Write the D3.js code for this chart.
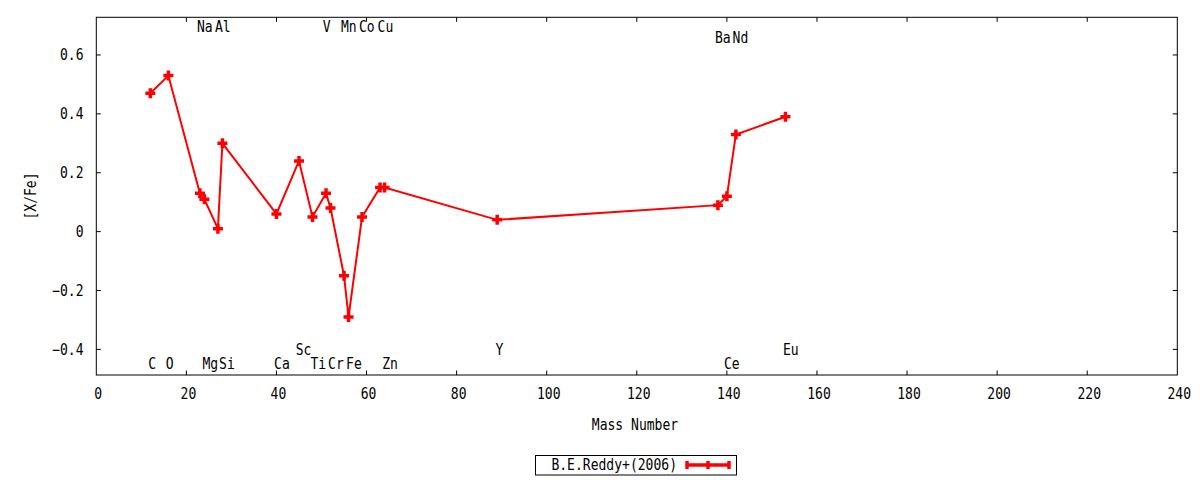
<!DOCTYPE html>
<html>
<head>
<meta charset="utf-8">
<script src="https://cdn.jsdelivr.net/npm/d3@7"></script>
<style>
  body { margin: 0; background: #fff; }
  text { font-family: "DejaVu Sans Mono", monospace; font-size: 15px; fill: #000; }
</style>
</head>
<body>
<script>
// data
const elements = ["C","O","Na","Mg","Al","Si","Ca","Sc","Ti","V","Cr","Mn","Fe","Co","Cu","Zn","Y","Ba","Ce","Nd","Eu"];
const mass = [12,16,23,24,27,28,40,45,48,51,52,55,56,59,63,64,89,138,140,142,153];
const xfe = [0.47,0.53,0.13,0.11,0.01,0.30,0.06,0.24,0.05,0.13,0.08,-0.15,-0.29,0.05,0.15,0.15,0.04,0.09,0.12,0.33,0.39];

// element labels placed on the plot (x in mass units, y in [X/Fe])
const labelText = ["Na","Al","V","Mn","Co","Cu","Ba","Nd","C","O","Mg","Si","Ca","Sc","Ti","Cr","Fe","Zn","Y","Ce","Eu"];
const labelX = [24.1,28.1,51.15,56.05,60.05,64.2,139.1,143.0,12.4,16.3,25.3,29.0,41.2,46.0,49.3,53.2,57.2,65.2,89.5,141.1,154.2];
const labelY = [0.695,0.695,0.695,0.695,0.695,0.695,0.66,0.66,-0.45,-0.45,-0.45,-0.45,-0.45,-0.40,-0.45,-0.45,-0.45,-0.45,-0.40,-0.45,-0.40];

const xTicks = d3.range(0, 241, 20);
const yTicks = [-0.4, -0.2, 0, 0.2, 0.4, 0.6];
const seriesName = "B.E.Reddy+(2006)";

const W = 1200, H = 480;
const mLeft = 96.3, mRight = 1177.3, mTop = 17.3, mBottom = 375;
const sx = 0.87; // squeeze text horizontally to match the narrow glyphs

const x = d3.scaleLinear().domain([0, 240]).range([mLeft, mRight]);
const y = d3.scaleLinear().domain([-0.487, 0.728]).range([mBottom, mTop]);

const svg = d3.select("body").append("svg")
  .attr("width", W)
  .attr("height", H);

function label(px, py, str, anchor, rot) {
  svg.append("text")
    .attr("transform", `translate(${px},${py})` + (rot ? ` rotate(${rot})` : "") + ` scale(${sx},1)`)
    .attr("text-anchor", anchor || "middle")
    .attr("dy", "0.35em")
    .text(str);
}

// frame
svg.append("rect")
  .attr("x", mLeft).attr("y", mTop)
  .attr("width", mRight - mLeft).attr("height", mBottom - mTop)
  .attr("fill", "none").attr("stroke", "#000").attr("stroke-width", 1);

// ticks (inward, mirrored)
const tl = 4.5;
xTicks.forEach(t => {
  if (t > 0 && t < 240) {
    svg.append("line").attr("x1", x(t)).attr("x2", x(t)).attr("y1", mBottom).attr("y2", mBottom - tl).attr("stroke", "#000");
    svg.append("line").attr("x1", x(t)).attr("x2", x(t)).attr("y1", mTop).attr("y2", mTop + tl).attr("stroke", "#000");
  }
  label(x(t) + 2, 393.5, String(t), "middle");
});
yTicks.forEach(t => {
  svg.append("line").attr("x1", mLeft).attr("x2", mLeft + tl).attr("y1", y(t)).attr("y2", y(t)).attr("stroke", "#000");
  svg.append("line").attr("x1", mRight).attr("x2", mRight - tl).attr("y1", y(t)).attr("y2", y(t)).attr("stroke", "#000");
  label(83.5, y(t), t === 0 ? "0" : d3.format(".1f")(t), "end");
});

// axis titles
label(635, 424.5, "Mass Number", "middle");
label(31, 196, "[X/Fe]", "middle", -90);

// element labels
labelText.forEach((s, i) => label(x(labelX[i]), y(labelY[i]), s, "middle"));

// line + markers
const pts = mass.map((m, i) => [m, xfe[i]]);
svg.append("path")
  .datum(pts)
  .attr("fill", "none")
  .attr("stroke", "#ff0000")
  .attr("stroke-width", 2)
  .attr("d", d3.line().x(d => x(d[0])).y(d => y(d[1])));

const plus = "M-5,0H5M0,-5V5";
svg.selectAll(".pt")
  .data(pts)
  .enter().append("path")
  .attr("class", "pt")
  .attr("transform", d => `translate(${x(d[0])},${y(d[1])})`)
  .attr("d", plus)
  .attr("stroke", "#ff0000")
  .attr("stroke-width", 3.5)
  .attr("fill", "none");

// legend
svg.append("rect")
  .attr("x", 535.5).attr("y", 455.5)
  .attr("width", 201).attr("height", 19.5)
  .attr("fill", "none").attr("stroke", "#000");
label(677, 465, seriesName, "end");
const ly = 465;
svg.append("path")
  .attr("d", `M687,${ly}H729M687,${ly - 4}V${ly + 4}M729,${ly - 4}V${ly + 4}M708,${ly - 4}V${ly + 4}`)
  .attr("stroke", "#ff0000")
  .attr("stroke-width", 3.5)
  .attr("fill", "none");
</script>
</body>
</html>
